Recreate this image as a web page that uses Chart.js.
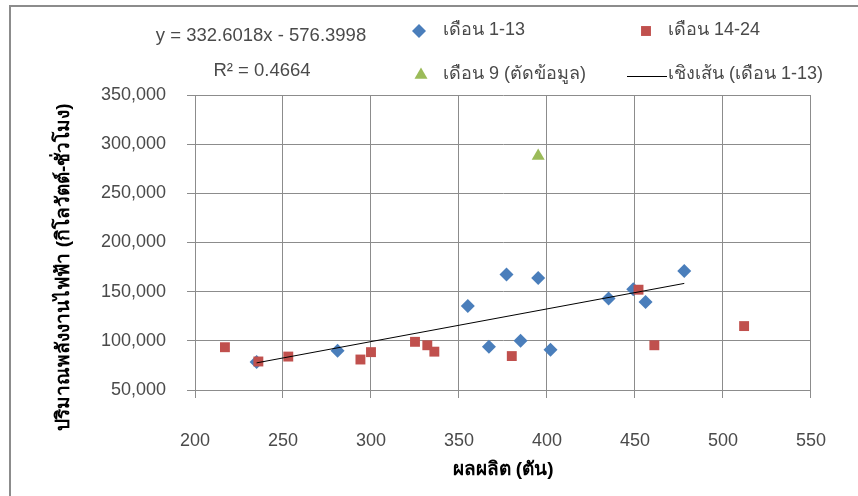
<!DOCTYPE html>
<html><head><meta charset="utf-8">
<script src="https://cdn.jsdelivr.net/npm/chart.js@4.4.1/dist/chart.umd.min.js"></script>
<style>
html,body{margin:0;padding:0;background:#fff;overflow:hidden;}
#wrap{position:relative;width:858px;height:496px;}
canvas{position:absolute;left:0;top:0;}
#frame{position:absolute;left:9px;top:5px;width:860px;height:500px;border:2px solid #8c8c8c;pointer-events:none;box-sizing:border-box;}
</style></head><body>
<div id="wrap"><canvas id="c" width="858" height="496"></canvas><div id="frame"></div></div>
<script>
// ---- data ----
const xTicks = [200, 250, 300, 350, 400, 450, 500, 550];
const yTicks = [50000, 100000, 150000, 200000, 250000, 300000, 350000];
const xMonths1to13 = [235, 281, 355, 367, 377, 385, 395, 402, 435, 449, 456, 478];
const yMonths1to13 = [78500, 90000, 135500, 94000, 167500, 100000, 164000, 91000, 143000, 152500, 139500, 171000];
const xMonths14to24 = [217, 236, 253, 294, 300, 325, 332, 336, 380, 452, 461, 512];
const yMonths14to24 = [93500, 79000, 84000, 81000, 88500, 99000, 95500, 89000, 84500, 152000, 95500, 115000];
const xMonth9 = [395];
const yMonth9 = [288000];
const xTrend = [235, 478];
const yTrend = [77600, 158400];
const seriesNames = ['เดือน 1-13', 'เดือน 14-24', 'เดือน 9 (ตัดข้อมูล)', 'เชิงเส้น (เดือน 1-13)'];
const equationText = 'y = 332.6018x - 576.3998';
const r2Text = 'R² = 0.4664';
const xTitle = 'ผลผลิต (ตัน)';
const yTitle = 'ปริมาณพลังงานไฟฟ้า (กิโลวัตต์-ชั่วโมง)';

const pts = (xs, ys) => xs.map((x, i) => ({x: x, y: ys[i]}));
const FONT = '"Liberation Sans", Arial, sans-serif';
const BLUE = '#4A7EBB', RED = '#C0504D', GREEN = '#9BBB59', TXT = '#4a4a4a', GRID = '#8c8c8c';

const decor = {
  id: 'decor',
  afterDraw(chart) {
    const ctx = chart.ctx;
    ctx.save();
    ctx.fillStyle = TXT;
    ctx.font = '18.5px ' + FONT;
    ctx.textAlign = 'center';
    ctx.textBaseline = 'alphabetic';
    ctx.fillText(equationText, 261, 41);
    ctx.fillText(r2Text, 262, 76);
    ctx.font = '18px ' + FONT;
    ctx.textAlign = 'left';
    ctx.fillText(seriesNames[0], 443, 35);
    ctx.fillText(seriesNames[1], 668, 35);
    ctx.fillText(seriesNames[2], 443, 79);
    ctx.fillText(seriesNames[3], 668, 79);
    ctx.fillStyle = BLUE;
    Chart.helpers.drawPoint(ctx, {pointStyle: 'rectRot', radius: 7, rotation: 0, borderWidth: 0}, 419, 31);
    ctx.fillStyle = RED;
    Chart.helpers.drawPoint(ctx, {pointStyle: 'rect', radius: 7, rotation: 0, borderWidth: 0}, 646, 31);
    ctx.fillStyle = GREEN;
    Chart.helpers.drawPoint(ctx, {pointStyle: 'triangle', radius: 7.5, rotation: 0, borderWidth: 0}, 421, 75);
    ctx.strokeStyle = '#000';
    ctx.lineWidth = 1;
    ctx.beginPath(); ctx.moveTo(627, 76.5); ctx.lineTo(667, 76.5); ctx.stroke();
    // axis titles
    ctx.fillStyle = '#000';
    ctx.font = 'bold 19px ' + FONT;
    ctx.textAlign = 'center';
    ctx.textBaseline = 'middle';
    ctx.fillText(xTitle, 503, 470);
    ctx.translate(64, 267);
    ctx.rotate(-Math.PI / 2);
    ctx.fillText(yTitle, 0, 0);
    ctx.restore();
  }
};

new Chart(document.getElementById('c'), {
  type: 'scatter',
  data: {
    datasets: [
      {label: seriesNames[3], type: 'line', data: pts(xTrend, yTrend), borderColor: '#000', borderWidth: 1, pointRadius: 0, fill: false},
      {label: seriesNames[1], data: pts(xMonths14to24, yMonths14to24), backgroundColor: RED, borderWidth: 0, pointStyle: 'rect', pointRadius: 7},
      {label: seriesNames[0], data: pts(xMonths1to13, yMonths1to13), backgroundColor: BLUE, borderWidth: 0, pointStyle: 'rectRot', pointRadius: 7},
      {label: seriesNames[2], data: pts(xMonth9, yMonth9), backgroundColor: GREEN, borderWidth: 0, pointStyle: 'triangle', pointRadius: 7.5}
    ]
  },
  options: {
    responsive: false,
    animation: false,
    layout: {padding: {left: 0, right: 39, top: 95, bottom: 0}, autoPadding: false},
    plugins: {legend: {display: false}, tooltip: {enabled: false}},
    scales: {
      x: {
        type: 'linear', min: xTicks[0], max: xTicks[xTicks.length - 1],
        afterBuildTicks(s) { s.ticks = xTicks.map(v => ({value: v})); },
        afterFit(s) { s.height = 106; },
        ticks: {color: TXT, font: {family: FONT, size: 18}, padding: 32, maxRotation: 0, callback: v => String(v)},
        grid: {color: GRID, tickLength: 8, lineWidth: 1},
        border: {color: GRID, width: 1}
      },
      y: {
        type: 'linear', min: yTicks[0], max: yTicks[yTicks.length - 1],
        afterBuildTicks(s) { s.ticks = yTicks.map(v => ({value: v})); },
        afterFit(s) { s.width = 195; },
        ticks: {color: TXT, font: {family: FONT, size: 18}, padding: 21, callback: v => Number(v).toLocaleString('en-US')},
        grid: {color: GRID, tickLength: 8, lineWidth: 1},
        border: {color: GRID, width: 1}
      }
    }
  },
  plugins: [decor]
});
</script>
</body></html>
